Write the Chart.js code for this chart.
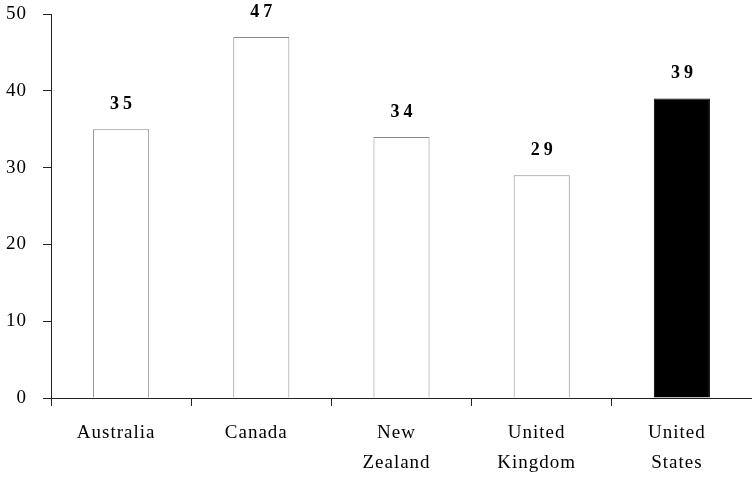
<!DOCTYPE html>
<html>
<head>
<meta charset="utf-8">
<script src="https://cdn.jsdelivr.net/npm/chart.js@4/dist/chart.umd.min.js"></script>
<style>
html,body{margin:0;padding:0;background:#fff;}
#wrap{width:752px;height:477px;position:relative;}
</style>
</head>
<body>
<div id="wrap"><canvas id="c" width="752" height="477"></canvas></div>
<script>
const categories = [["Australia"], ["Canada"], ["New", "Zealand"], ["United", "Kingdom"], ["United", "States"]];
const values = [35, 47, 34, 29, 39];
const barColors = ["#ffffff", "#ffffff", "#ffffff", "#ffffff", "#000000"];
const borderColors = ["#8a8a8a", "#8a8a8a", "#8a8a8a", "#8a8a8a", "#000000"];
const yTicks = [0, 10, 20, 30, 40, 50];

const spacingPlugin = {
  id: 'spacing',
  beforeLayout(chart) { chart.ctx.letterSpacing = '1px'; },
  beforeDraw(chart) { chart.ctx.letterSpacing = '1px'; }
};

const labelPlugin = {
  id: 'valueLabels',
  afterDatasetsDraw(chart) {
    const ctx = chart.ctx;
    const meta = chart.getDatasetMeta(0);
    ctx.save();
    ctx.font = 'bold 18px "Liberation Serif", serif';
    ctx.letterSpacing = '4px';
    ctx.fillStyle = '#000';
    ctx.textAlign = 'center';
    ctx.textBaseline = 'alphabetic';
    meta.data.forEach((bar, i) => {
      ctx.fillText(String(values[i]), bar.x + 2, bar.y - 20);
    });
    ctx.restore();
  }
};

new Chart(document.getElementById('c'), {
  type: 'bar',
  data: {
    labels: categories,
    datasets: [{
      data: values,
      backgroundColor: barColors,
      borderColor: borderColors,
      borderWidth: 1,
      barPercentage: 0.4,
      categoryPercentage: 1.0
    }]
  },
  options: {
    responsive: false,
    animation: false,
    devicePixelRatio: 1,
    layout: { padding: 0 },
    plugins: { legend: { display: false }, tooltip: { enabled: false } },
    scales: {
      x: {
        offset: true,
        grid: { offset: true, drawOnChartArea: false, drawTicks: true, tickLength: 8, color: '#222', lineWidth: 1 },
        border: { color: '#222', width: 1 },
        ticks: {
          color: '#000',
          font: { family: '"Liberation Serif", serif', size: 19, lineHeight: 1.58 },
          padding: 12,
          labelOffset: -5,
          maxRotation: 0,
          autoSkip: false
        },
        afterFit(scale) { scale.height = 79; scale.paddingLeft = 0; scale.paddingRight = 0; }
      },
      y: {
        min: 0, max: 50,
        afterBuildTicks(scale) { scale.ticks = yTicks.map(v => ({ value: v })); },
        grid: { drawOnChartArea: false, drawTicks: true, tickLength: 8, color: '#222', lineWidth: 1 },
        border: { color: '#222', width: 1 },
        ticks: {
          color: '#000',
          font: { family: '"Liberation Serif", serif', size: 19 },
          padding: 16
        },
        afterFit(scale) { scale.width = 51; scale.paddingTop = 14; scale.paddingBottom = 0; }
      }
    }
  },
  plugins: [spacingPlugin, labelPlugin]
});
</script>
</body>
</html>
